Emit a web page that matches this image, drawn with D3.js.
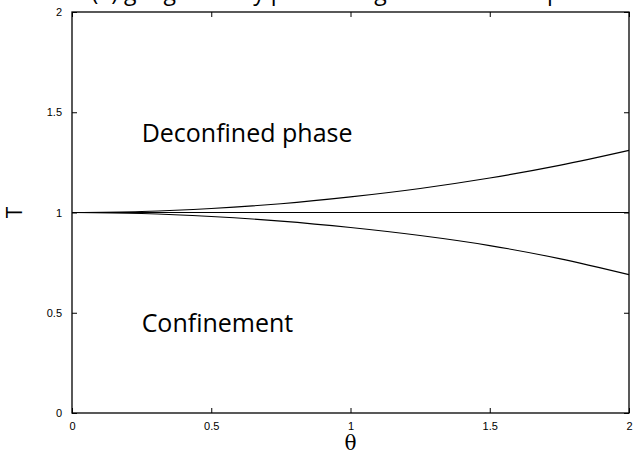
<!DOCTYPE html>
<html>
<head>
<meta charset="utf-8" />
<title>phase diagram</title>
<style>
  body { margin: 0; background: #fff; }
  svg { display: block; }
  .tick text { font-family: "Liberation Sans", Arial, sans-serif; font-size: 11px; fill: #000; }
  .lab { font-family: "Open Sans", "DejaVu Sans", sans-serif; fill: #000; font-variant-ligatures: none; }
</style>
</head>
<body>
<div id="chart"></div>
<script src="https://cdnjs.cloudflare.com/ajax/libs/d3/7.8.5/d3.min.js"></script>
<script>
// curve samples
var thetas = [0, 0.25, 0.5, 0.75, 1, 1.25, 1.5, 1.75, 2];
var upper  = [1, 1.005, 1.02, 1.044, 1.078, 1.12, 1.172, 1.235, 1.31];
var lower  = [1, 0.995, 0.98, 0.957, 0.925, 0.885, 0.835, 0.77, 0.69];
var flat   = [1, 1, 1, 1, 1, 1, 1, 1, 1];
var xTicks = [0, 0.5, 1, 1.5, 2];
var yTicks = [0, 0.5, 1, 1.5, 2];

var W = 634, H = 452;
var margin = {top: 12, right: 5, bottom: 39, left: 72};
var width = W - margin.left - margin.right,
    height = H - margin.top - margin.bottom;

var svg = d3.select("#chart").append("svg")
    .attr("width", W)
    .attr("height", H);

// title, mostly cut off by the top edge
svg.append("text")
    .attr("class", "lab")
    .attr("x", 62)
    .attr("y", 0)
    .style("font-size", "23px")
    .text("SU(3) gauge theory phase diagram in the \u03b8\u2013T plane");

var g = svg.append("g")
    .attr("transform", "translate(" + margin.left + "," + margin.top + ")");

var x = d3.scaleLinear().domain([0, 2]).range([0, width]);
var y = d3.scaleLinear().domain([0, 2]).range([height, 0]);

var fmt = d3.format("~g");

// bottom axis, ticks pointing inwards
g.append("g")
    .attr("transform", "translate(0," + height + ")")
    .call(d3.axisBottom(x).tickValues(xTicks).tickFormat(fmt).tickSizeInner(-5).tickSizeOuter(0).tickPadding(9))
    .call(function (a) { a.select(".domain").remove(); });

// top ticks
g.append("g")
    .call(d3.axisTop(x).tickValues(xTicks).tickFormat("").tickSizeInner(-5).tickSizeOuter(0))
    .call(function (a) { a.select(".domain").remove(); });

// left axis
g.append("g")
    .call(d3.axisLeft(y).tickValues(yTicks).tickFormat(fmt).tickSizeInner(-5).tickSizeOuter(0).tickPadding(10))
    .call(function (a) { a.select(".domain").remove(); });

// right ticks
g.append("g")
    .attr("transform", "translate(" + width + ",0)")
    .call(d3.axisRight(y).tickValues(yTicks).tickFormat("").tickSizeInner(-5).tickSizeOuter(0))
    .call(function (a) { a.select(".domain").remove(); });

g.selectAll(".tick line").attr("stroke", "#000").attr("stroke-width", 1);

// frame
g.append("rect")
    .attr("width", width)
    .attr("height", height)
    .attr("fill", "none")
    .attr("stroke", "#000")
    .attr("stroke-width", 1.3);

var line = d3.line()
    .x(function (d, i) { return x(thetas[i]); })
    .y(function (d) { return y(d); })
    .curve(d3.curveMonotoneX);

[upper, flat, lower].forEach(function (s) {
  g.append("path")
      .datum(s)
      .attr("fill", "none")
      .attr("stroke", "#000")
      .attr("stroke-width", 1.1)
      .attr("d", line);
});

// region labels
g.append("text")
    .attr("class", "lab")
    .attr("x", x(0.25))
    .attr("y", y(1.35))
    .style("font-size", "25px")
    .text("Deconfined phase");

g.append("text")
    .attr("class", "lab")
    .attr("x", x(0.25))
    .attr("y", y(0.405))
    .style("font-size", "25px")
    .text("Confinement");

// axis titles
svg.append("text")
    .attr("x", margin.left + x(1))
    .attr("y", 450)
    .attr("text-anchor", "middle")
    .style("font-family", "'DejaVu Serif', serif")
    .style("font-size", "20px")
    .text("\u03b8");

svg.append("text")
    .attr("class", "lab")
    .attr("transform", "translate(22," + (margin.top + y(1)) + ") rotate(-90)")
    .attr("text-anchor", "middle")
    .style("font-size", "21px")
    .text("T");
</script>
</body>
</html>
